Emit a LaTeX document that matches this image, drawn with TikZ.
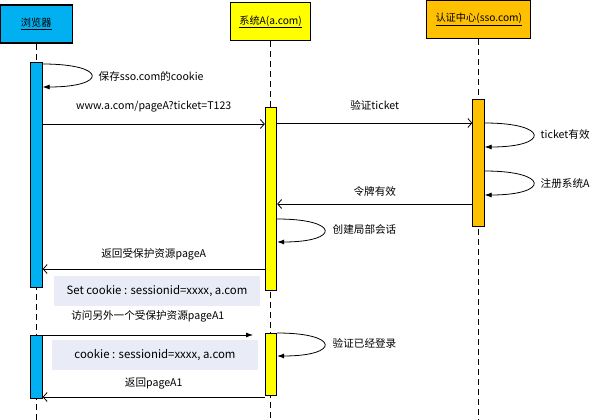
\documentclass[tikz,border=0pt]{standalone}
\usepackage{fontspec}
\setmainfont{Noto Sans CJK SC}
\usetikzlibrary{arrows.meta}
\definecolor{brwcol}{HTML}{00B0F0}
\definecolor{syscol}{HTML}{FFFF00}
\definecolor{ssocol}{HTML}{FFC000}
\definecolor{notecol}{HTML}{E9EBF6}
\begin{document}
\begin{tikzpicture}[x=1pt,y=-1pt,font=\fontsize{10.6}{12}\selectfont,line width=0.8pt,
	head/.style={draw,line width=1.2pt,minimum height=38pt,inner sep=0pt,font=\fontsize{10.2}{12}\selectfont},
	bar/.style={draw,minimum width=11.5pt,inner sep=0pt,anchor=north},
	life/.style={dash pattern=on 6pt off 4pt},
	msg/.style={-{Straight Barb[length=4pt,width=9pt]}},
	self/.style={-{Latex[length=7pt,width=5pt]}},
	note/.style={fill=notecol,inner sep=0pt,minimum width=206pt,minimum height=30pt,font=\fontsize{11.4}{13}\selectfont}]
	\useasboundingbox (0,0) rectangle (590,420);
	%heads
	\node[head,fill=brwcol,minimum width=72pt] (brw) at (36.2,24.1) {\underline{浏览器}};
	\node[head,fill=syscol,minimum width=80pt] (sys) at (270.6,21.9) {\underline{系统A(a.com)}};
	\node[head,fill=ssocol,minimum width=104pt] (sso) at (478.8,19.6) {\underline{认证中心(sso.com)}};
	%lifelines
	\draw[life] (brw.south) -- (brw.south |- 0,420);
	\draw[life] (sys.south) -- (sys.south |- 0,420);
	\draw[life] (sso.south) -- (sso.south |- 0,420);
	%bars
	\node[bar,fill=brwcol,minimum height=225pt] (brw1) at (36.5,62) {};
	\node[bar,fill=brwcol,minimum height=63pt] (brw2) at (36.5,335) {};
	\node[bar,fill=syscol,minimum height=183pt] (sys1) at (271,107) {};
	\node[bar,fill=syscol,minimum height=62pt] (sys2) at (271,333) {};
	\node[bar,fill=ssocol,minimum height=127pt] (sso1) at (478.5,99) {};
	%notes
	\node[note] (setck) at (157,291) {Set cookie : sessionid=xxxx, a.com};
	\node[note] (ck) at (155,355) {cookie : sessionid=xxxx, a.com};
	%messages
	\draw[self] (brw1.east |- 0,64) .. controls +(65,0) and +(65,0) .. (brw1.east |- 0,87);
	\node[anchor=west] (l1) at (95,76) {保存sso.com的cookie};
	\draw[msg] (brw1.east |- 0,124) -- (sys1.west |- 0,124) node[midway,above=8pt] (l2) {www.a.com/pageA?ticket=T123};
	\draw[msg] (sys1.east |- 0,123) -- (sso1.west |- 0,123) node[midway,above=9pt] (l3) {验证ticket};
	\draw[self] (sso1.east |- 0,123) .. controls +(65,0) and +(65,0) .. (sso1.east |- 0,147);
	\node[anchor=west] (l4) at (537,134) {ticket有效};
	\draw[self] (sso1.east |- 0,171) .. controls +(65,0) and +(65,0) .. (sso1.east |- 0,195);
	\node[anchor=west] (l5) at (537,183) {注册系统A};
	\draw[msg] (sso1.west |- 0,204) -- (sys1.east |- 0,204) node[midway,above=4pt] (l6) {令牌有效};
	\draw[self] (sys1.east |- 0,219) .. controls +(63,0) and +(63,0) .. (sys1.east |- 0,242);
	\node[anchor=west] (l7) at (329,229) {创建局部会话};
	\draw[msg] (sys1.west |- 0,269) -- (brw1.east |- 0,269) node[midway,above=5pt] (l8) {返回受保护资源pageA};
	\draw[self] (brw2.east |- 0,335) -- (253,335) node[midway,above=9pt] (l9) {访问另外一个受保护资源pageA1};
	\draw[self] (sys2.east |- 0,333) .. controls +(63,0) and +(63,0) .. (sys2.east |- 0,356);
	\node[anchor=west] (l10) at (329,343) {验证已经登录};
	\draw[msg] (sys2.west |- 0,397) -- (brw2.east |- 0,397) node[midway,above=4pt] (l11) {返回pageA1};
\end{tikzpicture}
\end{document}
